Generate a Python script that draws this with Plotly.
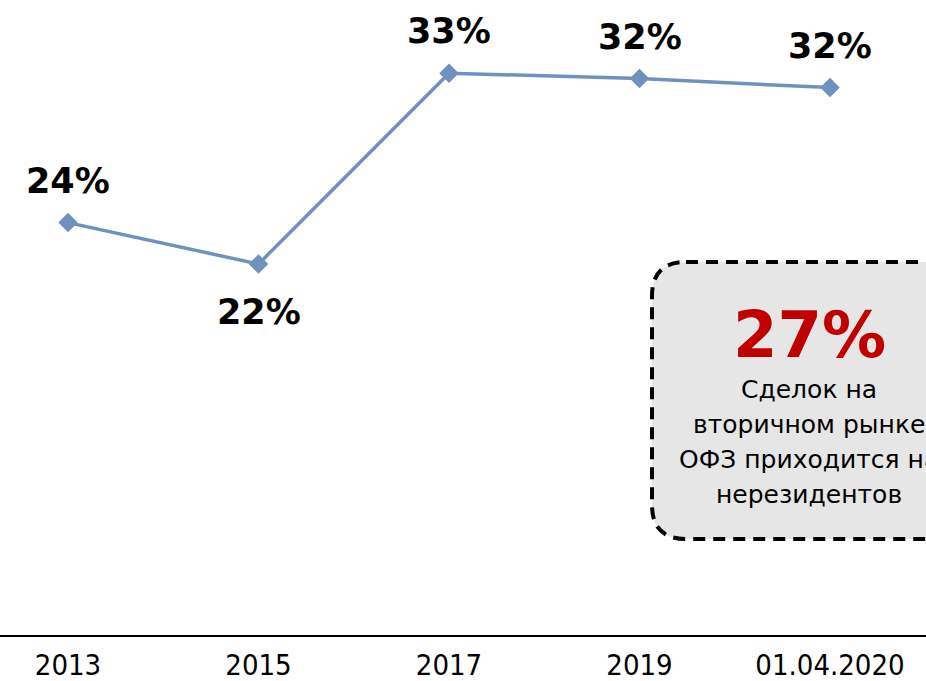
import plotly.graph_objects as go

# ---- data ----
categories = ["2013", "2015", "2017", "2019", "01.04.2020"]
share_values = [24.3, 22.0, 32.6, 32.3, 31.8]
share_labels = ["24%", "22%", "33%", "32%", "32%"]
callout_value = "27%"
callout_lines = ["Сделок на", "вторичном рынке", "ОФЗ приходится на", "нерезидентов"]

W, H = 926, 681
MB = 46
PH = H - MB  # plot height in px

LINE_COLOR = "#7090c0"

fig = go.Figure()
fig.add_trace(go.Scatter(
    x=list(range(len(categories))), y=share_values, mode="lines+markers",
    line=dict(color=LINE_COLOR, width=3.5),
    marker=dict(symbol="diamond", size=15, color=LINE_COLOR),
    hoverinfo="skip", showlegend=False, cliponaxis=False,
))

# data labels (below for local minimum, above otherwise)
for i, (v, t) in enumerate(zip(share_values, share_labels)):
    prev_v = share_values[i - 1] if i > 0 else None
    next_v = share_values[i + 1] if i < len(share_values) - 1 else None
    below = prev_v is not None and next_v is not None and v < prev_v and v < next_v
    fig.add_annotation(
        x=i, y=v, text=t, showarrow=False,
        yshift=-48 if below else 42,
        font=dict(family="DejaVu Sans", size=35, color="black", weight="bold"),
    )

# rounded dashed callout box (pixel -> paper)
def px(xp):
    return xp / W

def py(yp):
    return (PH - yp) / PH

x0, x1, y0, y1, r = 652, 970, 262, 539, 34
path = (
    f"M {px(x0 + r)},{py(y0)} L {px(x1 - r)},{py(y0)} "
    f"Q {px(x1)},{py(y0)} {px(x1)},{py(y0 + r)} "
    f"L {px(x1)},{py(y1 - r)} Q {px(x1)},{py(y1)} {px(x1 - r)},{py(y1)} "
    f"L {px(x0 + r)},{py(y1)} Q {px(x0)},{py(y1)} {px(x0)},{py(y1 - r)} "
    f"L {px(x0)},{py(y0 + r)} Q {px(x0)},{py(y0)} {px(x0 + r)},{py(y0)} Z"
)
fig.add_shape(type="path", xref="paper", yref="paper", path=path,
              fillcolor="#e6e6e6", line=dict(color="black", width=4, dash="12px,8px"),
              layer="below")

fig.add_annotation(xref="paper", yref="paper", x=px(809), y=py(335), text=callout_value,
                   showarrow=False, xanchor="center", yanchor="middle",
                   font=dict(family="DejaVu Sans", size=64, color="#c00000", weight="bold"))
for k, line in enumerate(callout_lines):
    fig.add_annotation(xref="paper", yref="paper", x=px(809), y=py(389 + 35 * k), text=line,
                       showarrow=False, xanchor="center", yanchor="middle",
                       font=dict(family="DejaVu Sans", size=25, color="black"))

fig.update_layout(
    width=W, height=H,
    margin=dict(l=0, r=0, t=0, b=MB, autoexpand=False),
    paper_bgcolor="white", plot_bgcolor="white",
    xaxis=dict(range=[-68 / 190.5, (926 - 68) / 190.5], automargin=False,
               tickmode="array", tickvals=list(range(len(categories))), ticktext=categories,
               showgrid=False, zeroline=False, showline=True, linecolor="black", linewidth=2,
               ticks="", ticklabelstandoff=3,
               tickfont=dict(family="DejaVu Sans Condensed", size=29, color="black"),
               fixedrange=True),
    yaxis=dict(range=[22 - (PH - 264) / 18, 22 + 264 / 18], visible=False, automargin=False,
               showgrid=False, zeroline=False, fixedrange=True),
)

fig.write_html("out.html", config={"displayModeBar": False},
               post_script="document.body.style.margin='0';document.body.style.padding='0';")
